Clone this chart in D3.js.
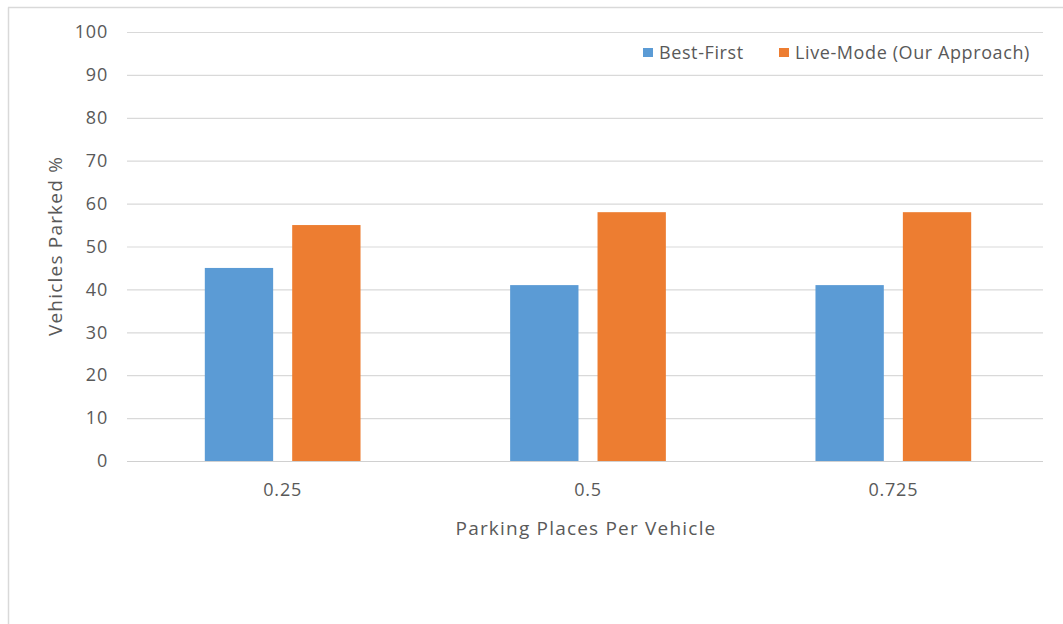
<!DOCTYPE html>
<html>
<head>
<meta charset="utf-8">
<script src="https://d3js.org/d3.v7.min.js"></script>
<style>
  html, body { margin: 0; padding: 0; background: #fff; }
  svg { display: block; }
  text { font-family: "Open Sans", "DejaVu Sans", sans-serif; fill: #595959; }
</style>
</head>
<body>
<svg id="chart" width="1063" height="624"></svg>
<script>
// Share of vehicles parked for each parking-supply ratio
const categories = ["0.25", "0.5", "0.725"];
const seriesNames = ["Best-First", "Live-Mode (Our Approach)"];
const bestFirst = [45, 41, 41];
const liveMode = [55, 58, 58];
const yTicks = [0, 10, 20, 30, 40, 50, 60, 70, 80, 90, 100];
const colors = ["#5b9bd5", "#ed7d31"];

const seriesValues = [bestFirst, liveMode];
const rows = categories.map((c, i) => ({
  category: c,
  values: seriesNames.map((s, j) => ({ series: s, value: seriesValues[j][i] }))
}));

const svg = d3.select("#chart");
const W = 1063, H = 624;
const plot = { left: 127, right: 1043, top: 32, bottom: 461 };

// outer frame (left and top edges visible)
svg.append("line").attr("x1", 8.5).attr("x2", 8.5).attr("y1", 7.5).attr("y2", H)
  .attr("stroke", "#d9d9d9").attr("stroke-width", 1.5);
svg.append("line").attr("x1", 8).attr("x2", W).attr("y1", 7.5).attr("y2", 7.5)
  .attr("stroke", "#d9d9d9").attr("stroke-width", 1.5);

const y = d3.scaleLinear().domain([0, 100]).range([plot.bottom, plot.top]);
const x0 = d3.scaleBand().domain(categories).range([plot.left + 3, plot.right + 3])
  .paddingInner(0.49).paddingOuter(0.245);
const x1 = d3.scaleBand().domain(seriesNames).range([0, x0.bandwidth()])
  .paddingInner(0.218);
const color = d3.scaleOrdinal().domain(seriesNames).range(colors);

// horizontal gridlines + y labels
const yAxis = d3.axisLeft(y).tickValues(yTicks).tickSize(-(plot.right - plot.left)).tickPadding(19);
const gy = svg.append("g").attr("transform", `translate(${plot.left},0)`).call(yAxis);
gy.select(".domain").remove();
gy.selectAll(".tick line").attr("stroke", "#d9d9d9").attr("stroke-width", 1.2);
gy.selectAll(".tick text").style("font-size", "18px").style("letter-spacing", "0.8px")
  .attr("fill", "#595959");

// bars
const groups = svg.append("g").selectAll("g").data(rows).join("g")
  .attr("transform", d => `translate(${x0(d.category)},0)`);
groups.selectAll("rect").data(d => d.values).join("rect")
  .attr("x", d => x1(d.series))
  .attr("width", x1.bandwidth())
  .attr("y", d => y(d.value))
  .attr("height", d => y(0) - y(d.value))
  .attr("fill", d => color(d.series));

// category axis
const xAxis = d3.axisBottom(x0).tickSize(0).tickPadding(22);
const gx = svg.append("g").attr("transform", `translate(0,${plot.bottom})`).call(xAxis);
gx.select(".domain").attr("d", `M${plot.left},0.5H${plot.right}`)
  .attr("stroke", "#d0d0d0").attr("stroke-width", 1.2);
gx.selectAll(".tick text").style("font-size", "18px").style("letter-spacing", "0.8px")
  .attr("fill", "#595959");

// axis titles
svg.append("text").attr("x", 586).attr("y", 535).attr("text-anchor", "middle")
  .style("font-size", "19px").style("letter-spacing", "1.2px").text("Parking Places Per Vehicle");
svg.append("text").attr("transform", "translate(62,246) rotate(-90)")
  .attr("text-anchor", "middle").style("font-size", "19px").style("letter-spacing", "1.2px")
  .text("Vehicles Parked %");

// legend
const legend = svg.append("g");
const legendX = [643, 779];
seriesNames.forEach((s, i) => {
  const g = legend.append("g").attr("transform", `translate(${legendX[i]},48)`);
  g.append("rect").attr("width", 10).attr("height", 9).attr("fill", colors[i]);
  g.append("text").attr("x", 16).attr("y", 11).style("font-size", "18px")
    .style("letter-spacing", "0.6px").text(s);
});
</script>
</body>
</html>
